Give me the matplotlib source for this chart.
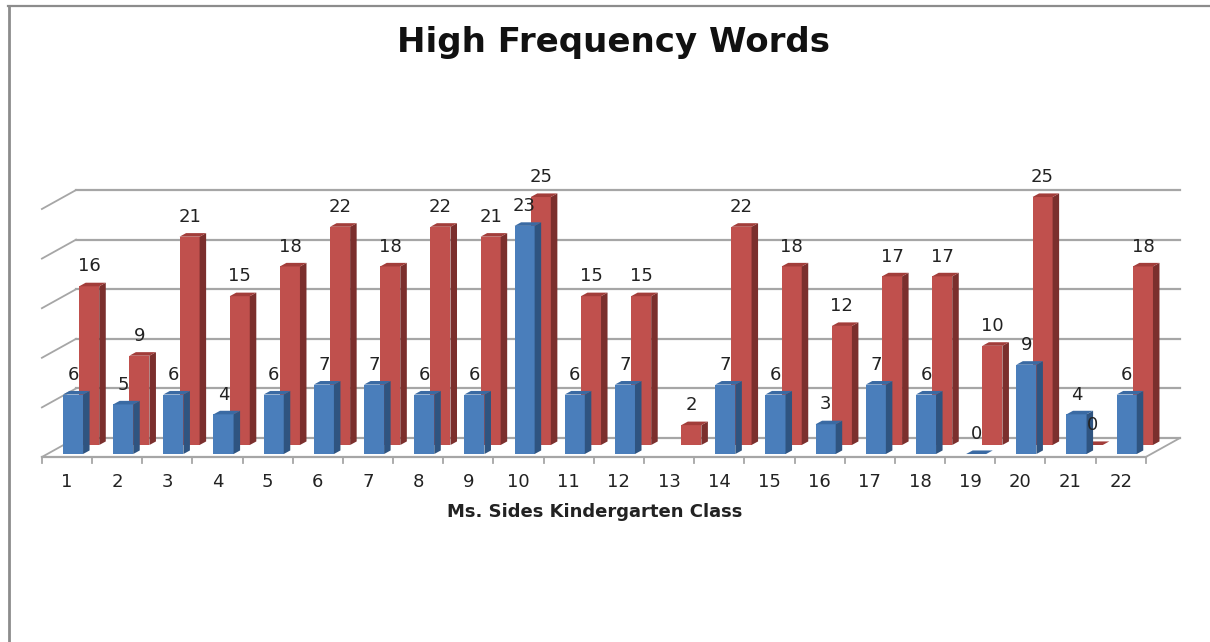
"""
High Frequency Words: paired pseudo-3D columns per student.
"""

import matplotlib

matplotlib.use("Agg")
import matplotlib.pyplot as plt
from matplotlib.lines import Line2D

STUDENTS = list(range(1, 23))
# student 13 has no blue value
BLUE_VALUES = [6, 5, 6, 4, 6, 7, 7, 6, 6, 23, 6, 7, None, 7, 6, 3, 7, 6, 0, 9, 4, 6]
RED_VALUES = [16, 9, 21, 15, 18, 22, 18, 22, 21, 25, 15, 15, 2, 22, 18, 12, 17, 17, 10, 25, 0, 18]
GRID_LEVELS = [0, 5, 10, 15, 20, 25]

BLUE = ("#4a7ebb", "#2f5480", "#3a6aa3")
RED = ("#c0504d", "#7b2f2d", "#a23d3a")
GRID = "#a6a6a6"
TEXT = "#222222"
FONT = "DejaVu Sans"

BAR_W = 0.40
BAR_DX = 0.13
BAR_DY = 0.36
BLUE_X = 0.42
RED_X = 0.743
RED_BASE = 0.91
FLOOR_FRONT = -0.30
FLOOR_BACK = 1.61
WALL_DX = 0.68


def draw_column(ax, left, base, value, colors):
    front, side, top = colors
    h = value
    right = left + BAR_W
    if h > 0:
        ax.bar(left, h, BAR_W, bottom=base, align="edge", color=front, linewidth=0, zorder=3)
        ax.fill(
            [right, right + BAR_DX, right + BAR_DX, right],
            [base, base + BAR_DY, base + h + BAR_DY, base + h],
            color=side, linewidth=0, zorder=3,
        )
    ax.fill(
        [left, right, right + BAR_DX, left + BAR_DX],
        [base + h, base + h, base + h + BAR_DY, base + h + BAR_DY],
        color=top, linewidth=0, zorder=3,
    )
    ax.text(left + BAR_W / 2, base + h + 2.0, str(value), ha="center", va="center",
            fontsize=13, family=FONT, color=TEXT, zorder=5)


fig = plt.figure(figsize=(12.1, 6.42), dpi=100)
ax = fig.add_axes([0, 0, 1, 1])
ax.set_xlim(-0.335, 23.78)
ax.set_ylim(-18.95, 45.77)
ax.axis("off")

x_left = STUDENTS[0] - 0.5
x_right = STUDENTS[-1] + 0.5

# back wall and left wall grid
for level in GRID_LEVELS:
    y_back = FLOOR_BACK + level
    y_front = FLOOR_FRONT + level
    ax.plot([x_left + WALL_DX, x_right + WALL_DX], [y_back, y_back], color=GRID, lw=1.6, zorder=1)
    ax.plot([x_left, x_left + WALL_DX], [y_front, y_back], color=GRID, lw=1.3, zorder=1)

# floor edges and ticks
ax.plot([x_left, x_right], [FLOOR_FRONT, FLOOR_FRONT], color=GRID, lw=1.6, zorder=1)
ax.plot([x_right, x_right + WALL_DX], [FLOOR_FRONT, FLOOR_BACK], color=GRID, lw=1.3, zorder=1)
for s in STUDENTS + [STUDENTS[-1] + 1]:
    ax.plot([s - 0.5, s - 0.5], [FLOOR_FRONT, FLOOR_FRONT - 0.6], color=GRID, lw=1.3, zorder=1)

for s, blue, red in zip(STUDENTS, BLUE_VALUES, RED_VALUES):
    draw_column(ax, s - 0.5 + RED_X, RED_BASE, red, RED)
    if blue is not None:
        draw_column(ax, s - 0.5 + BLUE_X, 0, blue, BLUE)
    ax.text(s, -2.8, str(s), ha="center", va="center", fontsize=13, family=FONT, color=TEXT)

ax.text(11.51, -6.32, "Ms. Sides Kindergarten Class", ha="center", va="baseline",
        fontsize=13, fontweight="bold", family=FONT, color=TEXT)
ax.text(11.9, 40.5, "High Frequency Words", ha="center", va="baseline",
        fontsize=24.5, fontweight="bold", family=FONT, color="#111111")

# outer frame, open at the right and bottom
fig.add_artist(Line2D([9 / 1210, 9 / 1210], [0, 1 - 6 / 642], color="#8c8c8c", lw=2))
fig.add_artist(Line2D([8 / 1210, 1], [1 - 6 / 642, 1 - 6 / 642], color="#8c8c8c", lw=1.6))

fig.savefig("out.png", dpi=100, facecolor="white")
plt.close(fig)
